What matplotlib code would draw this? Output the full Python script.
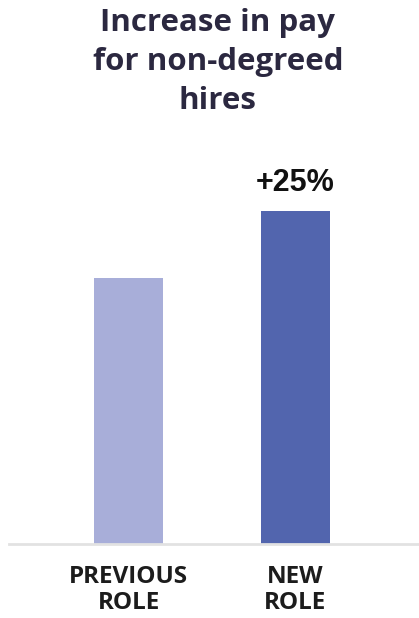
import matplotlib
matplotlib.use("Agg")
import matplotlib.pyplot as plt

# pay index, previous role = 100
roles = ["PREVIOUS\nROLE", "NEW\nROLE"]
pay = [100, 125]
bar_colors = ["#a8aed9", "#5265ae"]
change_label = "+25%"
title = "Increase in pay\nfor non-degreed\nhires"

TITLE_C = "#2b2840"
LABEL_C = "#1c1c1c"
BASE_C = "#e2e2e2"

W, H = 419, 618
fig = plt.figure(figsize=(W / 100, H / 100), dpi=100)
fig.patch.set_facecolor("white")

# axes spans from x=9px to the right edge, baseline at y=544px
ax = fig.add_axes([9 / W, (H - 544) / H, (W - 9) / W, 394 / H])
x = [0, 1]
ax.bar(x, pay, width=0.413, color=bar_colors, zorder=2)
ax.set_xlim(-0.716, 1.74)
ax.set_ylim(0, max(pay) * 1.183)

for s in ["top", "right", "left"]:
    ax.spines[s].set_visible(False)
ax.spines["bottom"].set_color(BASE_C)
ax.spines["bottom"].set_linewidth(2)
ax.set_yticks([])
ax.set_xticks(x)
ax.set_xticklabels(roles, fontsize=17.5, fontweight="bold", color=LABEL_C,
                   family=["Open Sans", "DejaVu Sans"], linespacing=1.12)
ax.tick_params(axis="x", length=0, pad=15)

ax.annotate(change_label, (x[1], pay[1]), xytext=(0, 9), textcoords="offset points",
            ha="center", va="bottom", fontsize=22, fontweight="bold",
            color="#111111", family=["Liberation Sans", "DejaVu Sans"])

fig.text(0.52, 1 - 8 / H, title, ha="center", va="top", fontsize=22.5,
         fontweight="bold", color=TITLE_C, linespacing=1.4,
         family=["Open Sans", "DejaVu Sans"])

fig.savefig("out.png", dpi=100, facecolor="white")
